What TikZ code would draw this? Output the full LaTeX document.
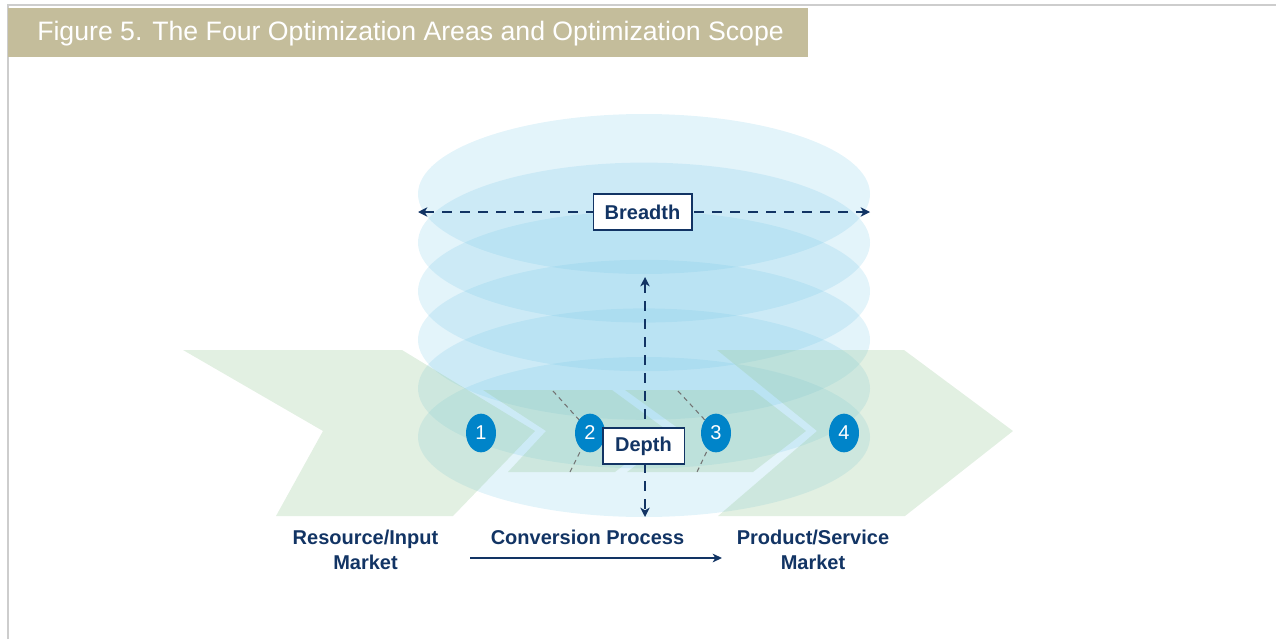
\documentclass[tikz,border=0pt]{standalone}
\usepackage{fontspec}
\setmainfont{Liberation Sans}
\usepackage{tikz}
\usetikzlibrary{shapes, arrows.meta}
\definecolor{navy}{RGB}{18,52,100}
\definecolor{tanbar}{RGB}{196,189,155}
\definecolor{discblue}{RGB}{115,198,230}
\definecolor{chevgreen}{RGB}{150,200,150}
\definecolor{badgeblue}{RGB}{0,132,201}
\definecolor{framegray}{RGB}{205,205,205}
\tikzstyle{disc} = [fill=discblue, fill opacity=0.2]
\tikzstyle{chev} = [fill=chevgreen, fill opacity=0.28]
\tikzstyle{dimline} = [navy, line width=1.1pt, dash pattern=on 7.5pt off 6pt, {Stealth[length=7pt,width=7pt,inset=2pt]}-{Stealth[length=7pt,width=7pt,inset=2pt]}]
\tikzstyle{dimbox} = [draw=navy, line width=1pt, fill=white, text=navy, font=\fontsize{15}{17}\selectfont\bfseries, minimum height=27pt, inner sep=0pt]
\tikzstyle{badge} = [ellipse, fill=badgeblue, text=white, minimum width=22.5pt, minimum height=29pt, inner sep=0pt, font=\fontsize{15}{17}\selectfont]
\tikzstyle{border} = [gray!90!black, line width=0.8pt, dash pattern=on 3.5pt off 3pt]
\tikzstyle{mkt} = [text=navy, align=center, font=\fontsize{15}{18.75}\selectfont\bfseries, inner sep=0pt]
\tikzstyle{arrow} = [navy, line width=1.1pt, -{Stealth[length=7pt,width=6.5pt,inset=2pt]}]

\begin{document}
\begin{tikzpicture}[x=0.75pt, y=-0.75pt]
\useasboundingbox (0,0) rectangle (1276,639);
\draw[framegray, line width=1pt] (8,639) -- (8,5) -- (1276,5);
\fill[tanbar] (8,8) rectangle (808,57);
\node[anchor=west, text=white, font=\fontsize{20}{23}\selectfont, inner sep=0pt] (title) at (37,33.5) {Figure 5. The Four Optimization Areas and Optimization Scope};

% stacked scope discs
\foreach \k in {0,...,5}
  \fill[disc] (644,{194+48.6*\k}) ellipse [x radius=169.5pt, y radius=60pt];

% value chain chevrons
\fill[chev] (183,350) -- (402,350) -- (535,431) -- (453,516) -- (276,516) -- (323,431) -- cycle;
\fill[chev] (483,390) -- (612,390) -- (668,431) -- (615,472) -- (508,472) -- (546,431) -- cycle;
\fill[chev] (625,390) -- (753,390) -- (806,431) -- (753,472) -- (627,472) -- (682,431) -- cycle;
\fill[chev] (717,350) -- (904,350) -- (1013,431) -- (905,516) -- (718,516) -- (817,431) -- cycle;

\coordinate (c2top) at (553,391);
\coordinate (c2bot) at (570,472);
\coordinate (c3top) at (678,391);
\coordinate (c3bot) at (697,472);
\draw[border] (c2top) -- (590,432) -- (c2bot);
\draw[border] (c3top) -- (716,432) -- (c3bot);

\node[badge] (n1) at (481,433) {1};
\node[badge] (n2) at (590,433) {2};
\node[badge] (n3) at (716,433) {3};
\node[badge] (n4) at (844,433) {4};

% breadth and depth
\coordinate (bleft) at (418,212);
\coordinate (bright) at (870,212);
\draw[dimline] (bleft) -- (bright);
\node[dimbox, minimum width=74pt] (breadth) at (642.5,212) {Breadth};

\coordinate (dtop) at (645,277);
\coordinate (dbot) at (645,517);
\draw[dimline] (dtop) -- (dbot);
\node[dimbox, minimum width=61pt] (depth) at (643.5,446) {Depth};

% markets
\node[mkt] (resource) at (365.5,549.5) {Resource/Input\\Market};
\node[mkt] (conversion) at (587.5,537) {Conversion Process};
\node[mkt] (product) at (813,549.5) {Product/Service\\Market};
\coordinate (pstart) at (470,558);
\coordinate (pend) at (722,558);
\draw[arrow] (pstart) -- (pend);
\end{tikzpicture}
\end{document}
